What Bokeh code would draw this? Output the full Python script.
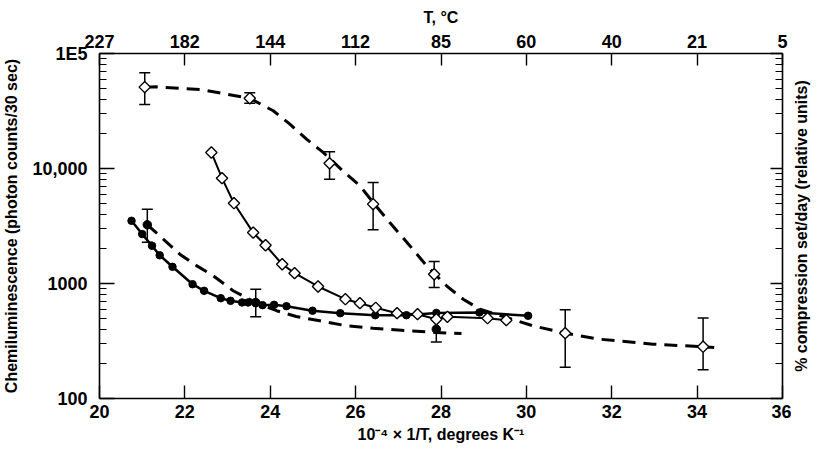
import numpy as np
from bokeh.plotting import figure
from bokeh.layouts import row
from bokeh.models import (LinearAxis, LogAxis, FixedTicker, Range1d, Whisker,
                          TeeHead, ColumnDataSource)
from bokeh.embed import file_html
from bokeh.resources import INLINE

# ---------------- data ----------------
x_ticks = [20, 22, 24, 26, 28, 30, 32, 34, 36]
temp_labels = ["227", "182", "144", "112", "85", "60", "40", "21", "5"]
y_ticks = [100, 1000, 10000, 100000]
y_tick_labels = ["100", "1000", "10,000", "1E5"]

# filled circles, solid curve
fc_x = [20.75, 21.0, 21.23, 21.41, 21.71, 22.18, 22.45, 22.84, 23.07, 23.34,
        23.48, 23.66, 23.82, 24.09, 24.38, 24.99, 25.64, 26.46, 27.19, 27.89,
        28.9, 30.04]
fc_y = [3510, 2690, 2130, 1760, 1397, 986, 864, 745, 707, 684,
        684, 674, 648, 653, 635, 580, 552, 530, 530, 555,
        560, 524]

# open diamonds, solid curve
od_x = [22.62, 22.87, 23.15, 23.60, 23.89, 24.28, 24.57, 25.12, 25.76, 26.10,
        26.47, 26.97, 27.45, 27.89, 28.15, 29.09, 29.53]
od_y = [13780, 8240, 4990, 2770, 2150, 1470, 1230, 942, 730, 674,
        615, 552, 541, 489, 513, 499, 480]

# open diamonds with error bars (upper dashed curve)
ud_x = [21.06, 23.52, 25.39, 26.41, 27.84, 30.91, 34.14]
ud_y = [51000, 40800, 11100, 4900, 1204, 370, 282]
ud_hi = [68000, 45500, 14000, 7550, 1550, 590, 500]
ud_lo = [36000, 37000, 8070, 2930, 923, 187, 178]

# upper dashed curve as drawn
udc_x = [21.06, 21.33, 22.43, 22.97, 23.52, 24.07, 24.46, 24.85, 25.24, 25.74,
         26.10, 26.41, 26.80, 27.27, 27.66, 28.13, 28.52, 28.91, 30.16, 30.91,
         31.71, 32.97, 34.14, 34.40]
udc_y = [51000, 51300, 48300, 44300, 40800, 31800, 24300, 18000, 13800, 9230,
         7080, 5060, 3390, 2130, 1430, 955, 730, 598, 428, 370,
         328, 297, 282, 277]

# filled circles with error bars (lower dashed curve)
ld_x = [21.12, 23.66, 27.89]
ld_y = [3240, 684, 401]
ld_hi = [4430, 890, 500]
ld_lo = [2280, 515, 310]

# lower dashed curve as drawn
ldc_x = [21.12, 21.41, 21.88, 22.27, 22.66, 23.13, 23.66, 24.15, 24.61, 25.16,
         25.78, 26.41, 27.27, 27.89, 28.48]
ldc_y = [3240, 2600, 1800, 1430, 1170, 865, 684, 580, 516, 474,
         429, 408, 388, 375, 367]

right_title = "% compression set/day (relative units)"

# ---------------- main figure ----------------
p = figure(frame_width=683, frame_height=345,
           x_range=Range1d(20, 36), y_range=Range1d(100, 100000),
           y_axis_type="log", output_backend="svg", toolbar_location=None,
           min_border_left=95, min_border_right=9, min_border_top=53,
           min_border_bottom=50)
p.outline_line_color = None
p.xgrid.visible = False
p.ygrid.visible = False
p.background_fill_color = "white"
p.border_fill_color = "white"

TICK_FONT = "Liberation Sans"
TITLE_FONT = "Liberation Sans"


def style(ax, tick_in=12, minor_in=6):
    ax.axis_line_width = 1.6
    ax.axis_line_color = "black"
    ax.major_tick_in = tick_in
    ax.major_tick_out = 0
    ax.minor_tick_in = minor_in
    ax.minor_tick_out = 0
    ax.major_tick_line_width = 1.4
    ax.minor_tick_line_width = 1.2
    ax.major_tick_line_color = "black"
    ax.minor_tick_line_color = "black"
    ax.major_label_text_font = TICK_FONT
    ax.major_label_text_font_size = "18px"
    ax.major_label_text_font_style = "bold"
    ax.major_label_text_color = "black"
    ax.axis_label_text_font = TITLE_FONT
    ax.axis_label_text_font_size = "16px"
    ax.axis_label_text_font_style = "bold"
    ax.axis_label_text_color = "black"


yminor = [m * 10 ** k for k in (2, 3, 4) for m in range(2, 10)]

# bottom axis
xa = p.xaxis[0]
xa.ticker = FixedTicker(ticks=x_ticks, minor_ticks=[])
style(xa, tick_in=13)
xa.major_label_standoff = 6
xa.axis_label = "10\u207b\u2074 \u00d7 1/T, degrees K\u207b\u00b9"
xa.axis_label_standoff = 5

# left axis
ya = p.yaxis[0]
ya.ticker = FixedTicker(ticks=y_ticks, minor_ticks=yminor)
ya.major_label_overrides = dict(zip(y_ticks, y_tick_labels))
style(ya, tick_in=15, minor_in=7)
ya.major_label_standoff = 12
ya.axis_label = "Chemiluminescence (photon counts/30 sec)"
ya.axis_label_standoff = 9

# top axis
ta = LinearAxis(ticker=FixedTicker(ticks=x_ticks, minor_ticks=[]),
                major_label_overrides=dict(zip(x_ticks, temp_labels)),
                axis_label="T, \u00b0C")
style(ta, tick_in=12)
ta.major_label_standoff = 6
ta.axis_label_standoff = 6
p.add_layout(ta, "above")

# right axis (ticks only)
ra = LogAxis(ticker=FixedTicker(ticks=y_ticks, minor_ticks=yminor),
             major_label_overrides={t: "" for t in y_ticks})
style(ra, tick_in=12, minor_in=7)
ra.major_label_standoff = 0
ra.major_label_text_font_size = "0px"
p.add_layout(ra, "right")

# ---------------- glyphs ----------------
p.line(udc_x, udc_y, line_color="black", line_width=3, line_dash="13 8")
p.line(ldc_x, ldc_y, line_color="black", line_width=3, line_dash="13 8")
p.line(od_x, od_y, line_color="black", line_width=2)
p.line(fc_x, fc_y, line_color="black", line_width=2.5)

src_u = ColumnDataSource(dict(x=ud_x, y=ud_y, hi=ud_hi, lo=ud_lo))
src_l = ColumnDataSource(dict(x=ld_x, y=ld_y, hi=ld_hi, lo=ld_lo))
for src in (src_u, src_l):
    w = Whisker(source=src, base="x", upper="hi", lower="lo",
                dimension="height", line_color="black", line_width=1.5,
                upper_head=TeeHead(size=11, line_width=1.5, line_color="black"),
                lower_head=TeeHead(size=11, line_width=1.5, line_color="black"),
                level="underlay")
    p.add_layout(w)

p.scatter(fc_x, fc_y, marker="circle", size=7.5, color="black")
p.scatter("x", "y", source=src_l, marker="circle", size=8.5, color="black")
p.scatter(od_x, od_y, marker="square", angle=np.pi / 4, size=8,
          fill_color="white", line_color="black", line_width=1.4)
p.scatter("x", "y", source=src_u, marker="square", angle=np.pi / 4, size=8,
          fill_color="white", line_color="black", line_width=1.4)

# ---------------- narrow strip carrying the right-hand title ----------------
p2 = figure(width=18, height=448, output_backend="svg", toolbar_location=None,
            x_axis_location=None, y_range=Range1d(0, 1), x_range=Range1d(0, 1),
            min_border_left=0, min_border_right=0, min_border_top=53,
            min_border_bottom=50)
p2.outline_line_color = None
p2.xgrid.visible = False
p2.ygrid.visible = False
p2.background_fill_color = "white"
p2.border_fill_color = "white"
a2 = p2.yaxis[0]
a2.ticker = FixedTicker(ticks=[], minor_ticks=[])
a2.axis_line_color = None
a2.major_tick_line_color = None
a2.minor_tick_line_color = None
a2.major_tick_out = 0
a2.minor_tick_out = 0
a2.major_label_standoff = 0
a2.major_label_text_font_size = "0px"
a2.axis_label = right_title
a2.axis_label_standoff = 0
a2.axis_label_text_font = TITLE_FONT
a2.axis_label_text_font_size = "16px"
a2.axis_label_text_font_style = "bold"
a2.axis_label_text_color = "black"

layout = row(p, p2)
open("out.html", "w").write(file_html(layout, INLINE))
